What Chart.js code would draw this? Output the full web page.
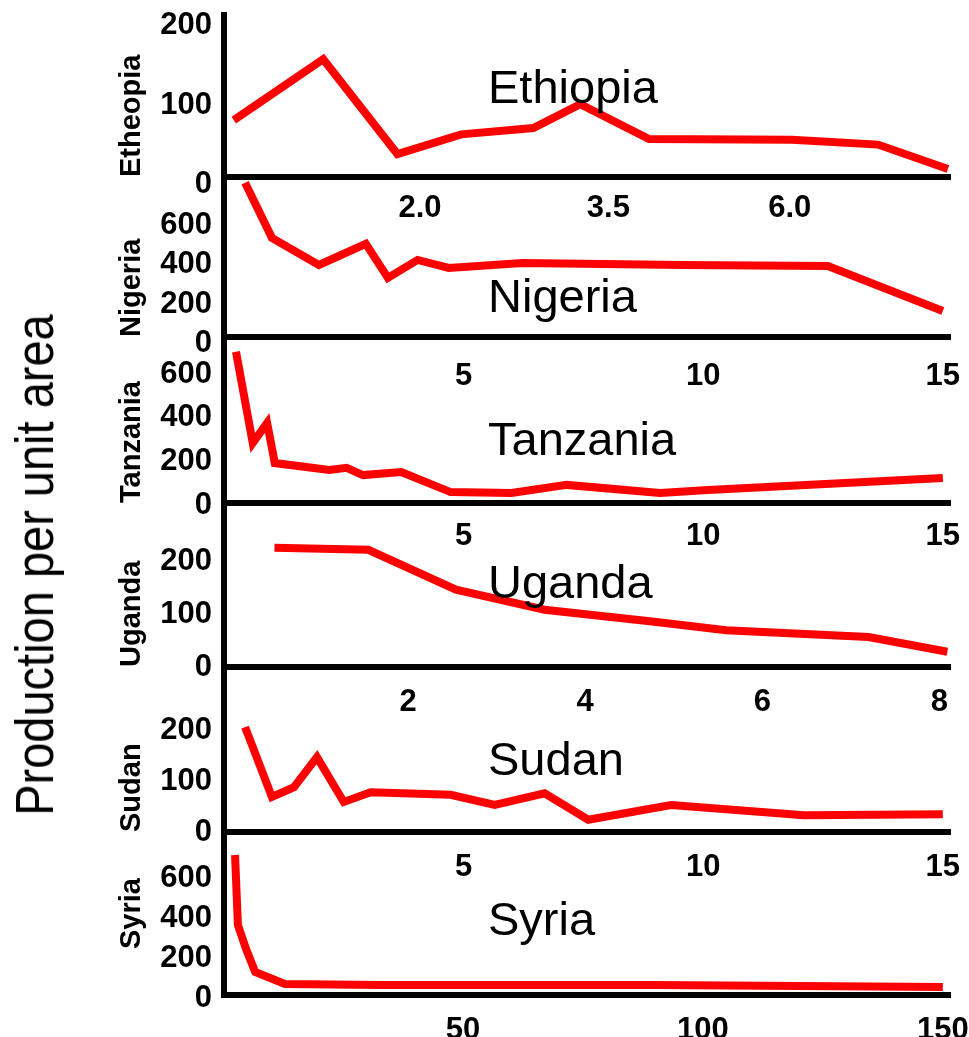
<!DOCTYPE html>
<html>
<head>
<meta charset="utf-8">
<script src="https://cdn.jsdelivr.net/npm/chart.js@4.4.0/dist/chart.umd.min.js"></script>
<style>
  body { margin:0; background:#fff; width:969px; height:1037px; overflow:hidden; position:relative;
         font-family:"Liberation Sans", Arial, sans-serif; }
  canvas { position:absolute; left:0; }
  .name { position:absolute; left:488px; font-size:47px; line-height:47px; color:#000; white-space:nowrap; }
  #ytitle { position:absolute; left:34px; top:565px; font-size:54px; line-height:54px; white-space:nowrap;
            transform: translate(-50%,-50%) rotate(-90deg) scaleX(0.87); }
</style>
</head>
<body>
<canvas id="c0" width="969" height="237" style="top:0px"></canvas>
<canvas id="c1" width="969" height="220" style="top:177px"></canvas>
<canvas id="c2" width="969" height="226" style="top:337px"></canvas>
<canvas id="c3" width="969" height="224" style="top:503px"></canvas>
<canvas id="c4" width="969" height="225" style="top:667px"></canvas>
<canvas id="c5" width="969" height="213" style="top:832px"></canvas>

<div class="name" style="top:63px">Ethiopia</div>
<div class="name" style="top:272px">Nigeria</div>
<div class="name" style="top:415px">Tanzania</div>
<div class="name" style="top:558px">Uganda</div>
<div class="name" style="top:735px">Sudan</div>
<div class="name" style="top:895px">Syria</div>
<div id="ytitle">Production per unit area</div>

<script>
// titles on the small y axes (spelling as in the original)
var axisTitles = ['Etheopia', 'Nigeria', 'Tanzania', 'Uganda', 'Sudan', 'Syria']

// Ethiopia
var ethX = [1.15, 1.5, 1.87, 2.26, 2.8, 3.22, 3.95, 6.04, 7.8, 9.6]
var ethY = [72, 149, 29, 54, 62, 92, 48, 47, 41, 10]
var ethXTicks = [2.0, 3.5, 6.0]
var ethYTicks = [0, 100, 200]

// Nigeria
var nigX = [0.44, 1.0, 1.98, 2.96, 3.42, 4.04, 4.69, 6.23, 9.56, 12.6, 15.0]
var nigY = [790, 508, 369, 477, 303, 395, 354, 379, 369, 364, 133]
var nigXTicks = [5, 10, 15]
var nigYTicks = [0, 200, 400, 600]

// Tanzania
var tanX = [0.25, 0.6, 0.9, 1.06, 2.2, 2.56, 2.9, 3.7, 4.73, 6.0, 7.15, 9.1, 10.1, 15.0]
var tanY = [693, 275, 367, 183, 151, 161, 128, 142, 50, 46, 83, 46, 60, 115]
var tanXTicks = [5, 10, 15]
var tanYTicks = [0, 200, 400, 600]

// Uganda
var ugaX = [0.49, 1.55, 2.54, 3.54, 4.78, 5.59, 7.2, 8.09]
var ugaY = [227, 223, 147, 109, 86, 70, 57, 29]
var ugaXTicks = [2, 4, 6, 8]
var ugaYTicks = [0, 100, 200]

// Sudan
var sudX = [0.44, 1.0, 1.46, 1.94, 2.5, 3.06, 4.73, 5.65, 6.69, 7.6, 9.33, 12.1, 15.0]
var sudY = [206, 69, 88, 147, 59, 78, 73, 53, 76, 24, 53, 33, 35]
var sudXTicks = [5, 10, 15]
var sudYTicks = [0, 100, 200]

// Syria
var syrX = [2.5, 3.1, 4.8, 6.7, 12.9, 32.5, 90, 150]
var syrY = [700, 350, 230, 115, 55, 50, 50, 40]
var syrXTicks = [50, 100, 150]
var syrYTicks = [0, 200, 400, 600]

var FONT = '"Liberation Sans", Arial, sans-serif'

function makePanel(id, title, xs, ys, xTicks, yTicks, o) {
  var pts = xs.map(function (v, i) { return { x: v, y: ys[i] } })
  new Chart(document.getElementById(id), {
    type: 'line',
    data: {
      datasets: [{
        data: pts,
        borderColor: '#ff0000',
        borderWidth: 8,
        pointRadius: 0,
        tension: 0,
        clip: false
      }]
    },
    options: {
      responsive: false,
      animation: false,
      layout: { padding: { left: 108, right: 19, top: o.padTop, bottom: 0 } },
      plugins: { legend: { display: false }, tooltip: { enabled: false } },
      scales: {
        x: {
          type: o.xType || 'linear',
          min: o.xMin, max: o.xMax,
          grid: { display: false, drawTicks: false },
          border: { display: true, color: '#000', width: 6 },
          ticks: {
            color: '#000', padding: o.xPad, autoSkip: false, maxRotation: 0,
            font: { family: FONT, size: 31, weight: 'bold' },
            callback: function (v) { return o.fmt ? o.fmt(v) : String(v) }
          },
          afterBuildTicks: function (s) { s.ticks = xTicks.map(function (v) { return { value: v } }) },
          afterFit: function (s) { s.height = o.xH || 60; s.paddingLeft = 0; s.paddingRight = 0 }
        },
        y: {
          min: 0, max: o.yMax,
          grid: { display: false, drawTicks: false },
          border: { display: true, color: '#000', width: 6 },
          ticks: {
            color: '#000', padding: 12, labelOffset: o.off,
            font: { family: FONT, size: 31, weight: 'bold' }
          },
          title: {
            display: true, text: title, color: '#000', align: o.tAlign || 'start',
            font: { family: FONT, size: 29, weight: 'bold' },
            padding: { top: 7, bottom: 0 }
          },
          afterBuildTicks: function (s) { s.ticks = yTicks.map(function (v) { return { value: v } }) },
          afterFit: function (s) { s.width = 116; s.paddingTop = 0; s.paddingBottom = 0 }
        }
      }
    }
  })
}

makePanel('c0', axisTitles[0], ethX, ethY, ethXTicks, ethYTicks,
  { padTop: 15, xType: 'logarithmic', xMin: 1.117, xMax: 9.66, yMax: 205, off: 7, xPad: 13,
    fmt: function (v) { return v.toFixed(1) } })
makePanel('c1', axisTitles[1], nigX, nigY, nigXTicks, nigYTicks,
  { padTop: 0, xMin: 0, xMax: 15.15, yMax: 820, off: 6, xPad: 21 })
makePanel('c2', axisTitles[2], tanX, tanY, tanXTicks, tanYTicks,
  { padTop: 0, xMin: 0, xMax: 15.15, yMax: 761, off: 2, xPad: 15 })
makePanel('c3', axisTitles[3], ugaX, ugaY, ugaXTicks, ugaYTicks,
  { padTop: 0, xMin: -0.08, xMax: 8.12, yMax: 312, off: 0, xPad: 17 })
makePanel('c4', axisTitles[4], sudX, sudY, sudXTicks, sudYTicks,
  { padTop: 0, xMin: 0, xMax: 15.15, yMax: 324, off: 0, xPad: 17 })
makePanel('c5', axisTitles[5], syrX, syrY, syrXTicks, syrYTicks,
  { padTop: 0, xMin: 0.2, xMax: 151.5, yMax: 815, off: 3, xH: 50, xPad: 17, tAlign: 'center' })
</script>
</body>
</html>
